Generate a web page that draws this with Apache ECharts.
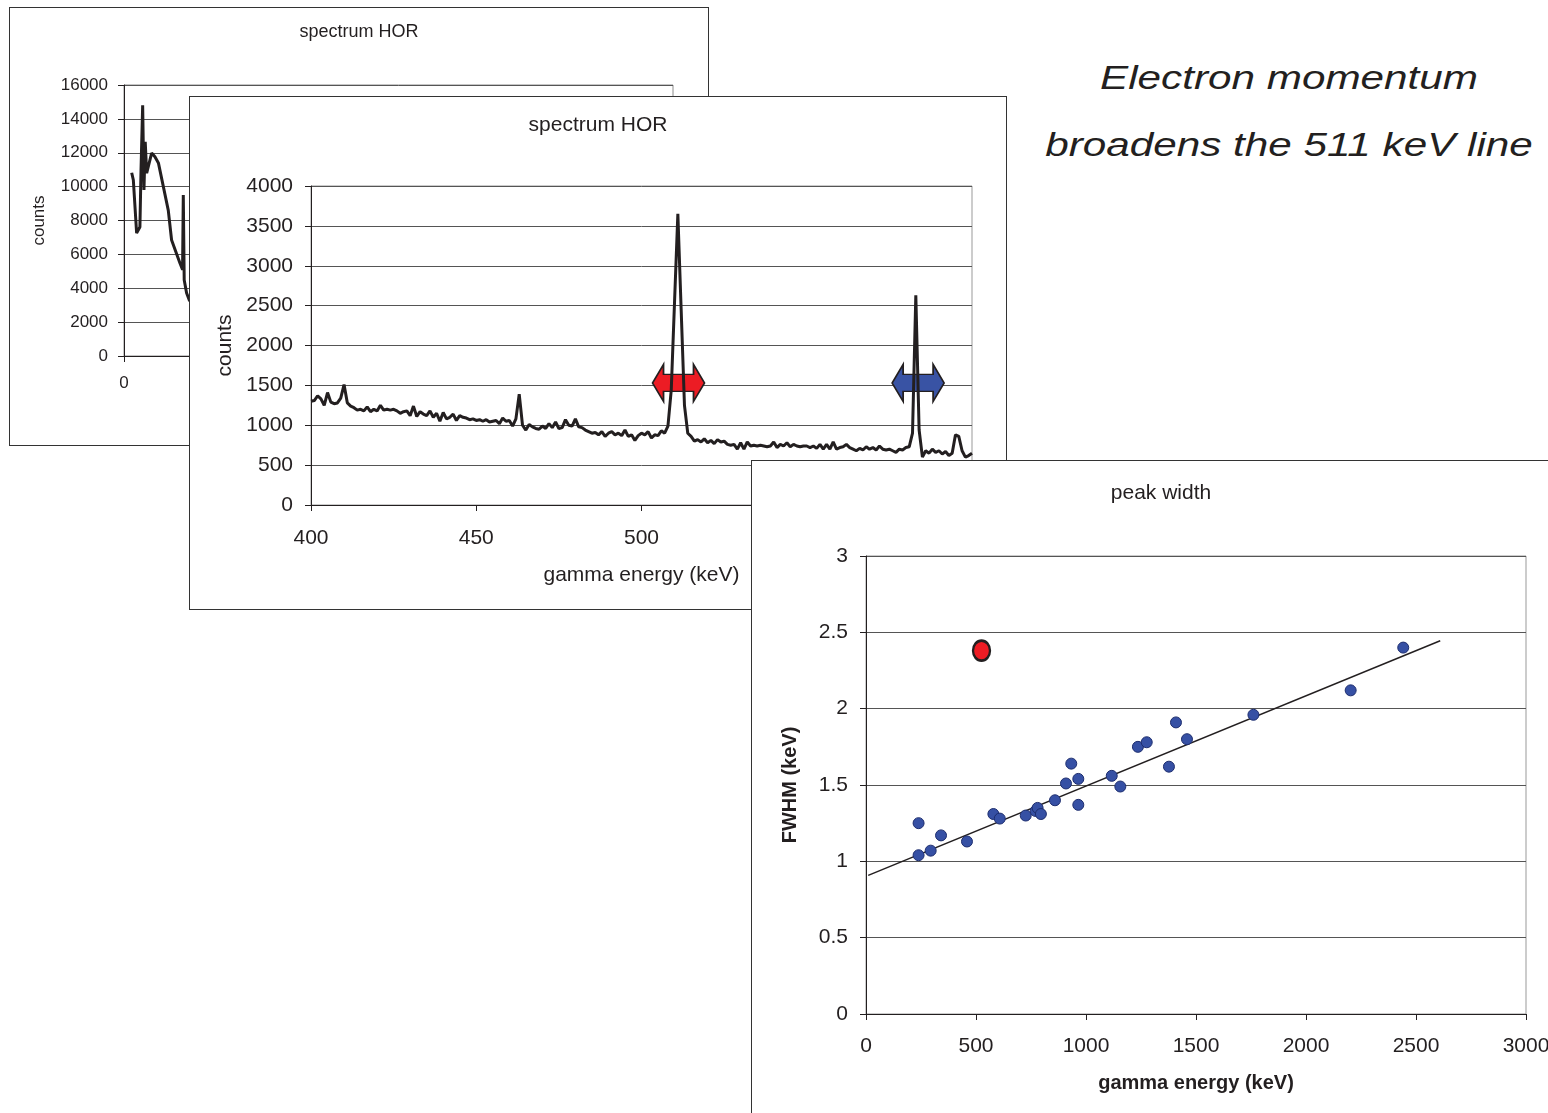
<!DOCTYPE html>
<html>
<head>
<meta charset="utf-8">
<title>Electron momentum broadens the 511 keV line</title>
<script src="https://cdn.jsdelivr.net/npm/echarts@6/dist/echarts.min.js"></script>
<style>
  html, body { margin: 0; padding: 0; background: #fff; overflow: hidden; }
  body { width: 1548px; height: 1113px; position: relative; font-family: 'Liberation Sans', Arial, sans-serif; }
  .panel { position: absolute; background: #fff; border: 1px solid #333; box-sizing: border-box; }
  #back { left: 9px; top: 7px; width: 700px; height: 439px; z-index: 1; }
  #zoom { left: 189px; top: 96px; width: 818px; height: 514px; z-index: 2; }
  #width { left: 751px; top: 460px; width: 820px; height: 700px; z-index: 3; }
  #heading {
    position: absolute; left: 1030px; top: 44px; width: 518px;
    text-align: center; font-style: italic; font-size: 33px; line-height: 67px;
    color: #231f20; transform: scaleX(1.28); transform-origin: center; z-index: 0;
  }
</style>
</head>
<body>
<div id="back" class="panel"></div>
<div id="zoom" class="panel"></div>
<div id="width" class="panel"></div>
<div id="heading">Electron momentum<br>broadens the 511 keV line</div>
<script>
const TEXT = '#231f20'
const FONT = 'Liberation Sans'

// full spectrum, back panel (only the low energy start is visible)
const fullEnergy = [42, 51, 69, 87, 93, 102, 109, 116, 124, 151, 169, 188, 215, 242, 260, 306, 320, 324, 329, 342, 357, 400, 450, 500]
const fullCounts = [10820, 10390, 7260, 7620, 10980, 14800, 9800, 12650, 10800, 11980, 11760, 11400, 10000, 8600, 6850, 5480, 5100, 9500, 4490, 3720, 3300, 2800, 2500, 2300]

// spectrum 400 - 600 keV, 1 keV bins
const zoomStart = 400
const zoomCounts = [
  1300, 1310, 1370, 1330, 1250, 1410, 1290, 1270, 1280, 1340,
  1510, 1280, 1240, 1220, 1190, 1200, 1180, 1230, 1170, 1200,
  1180, 1250, 1190, 1200, 1190, 1200, 1180, 1150, 1170, 1180,
  1120, 1240, 1110, 1170, 1140, 1120, 1180, 1100, 1150, 1050,
  1160, 1080, 1100, 1140, 1060, 1120, 1100, 1090, 1070, 1080,
  1060, 1070, 1050, 1070, 1040, 1050, 1060, 1020, 1090, 1050,
  1060, 990, 1080, 1390, 1000, 940, 1010, 980, 960, 950,
  990, 960, 1020, 970, 1040, 960, 970, 1070, 1000, 990,
  1080, 980, 970, 940, 920, 900, 910, 880, 920, 860,
  900, 920, 880, 900, 870, 940, 860, 880, 810, 870,
  900, 880, 920, 840, 880, 870, 930, 900, 990, 1440,
  2550, 3650, 2450, 1250, 900, 860, 800, 820, 790, 830,
  780, 810, 770, 820, 790, 800, 760, 750, 760, 700,
  780, 700, 790, 740, 750, 740, 750, 740, 730, 740,
  790, 720, 760, 740, 780, 730, 760, 740, 730, 740,
  740, 720, 740, 710, 760, 700, 760, 700, 790, 700,
  720, 730, 760, 720, 700, 680, 710, 690, 730, 700,
  720, 690, 740, 700, 690, 700, 680, 660, 700, 690,
  720, 730, 900, 2630, 940, 600, 680, 650, 700, 660,
  680, 640, 670, 620, 650, 880, 860, 680, 600, 620,
  650
]

// double arrows over the two lines
const arrowEnergy = [511.2, 583.7]
const arrowCounts = [1530, 1530]
const arrowColors = ['#ec1c24', '#3953a4']

// peak width vs energy
const peakEnergy = [239, 239, 294, 341, 459, 579, 608, 726, 771, 780, 795, 859, 909, 933, 965, 965, 1117, 1156, 1236, 1276, 1377, 1409, 1459, 1761, 2203, 2442]
const peakFwhm = [1.25, 1.04, 1.07, 1.17, 1.13, 1.31, 1.28, 1.30, 1.33, 1.35, 1.31, 1.40, 1.51, 1.64, 1.54, 1.37, 1.56, 1.49, 1.75, 1.78, 1.62, 1.91, 1.80, 1.96, 2.12, 2.40]
const annihEnergy = [525]
const annihFwhm = [2.38]
const fitEnergy = [10, 2610]
const fitFwhm = [0.908, 2.445]

const pairs = (xs, ys) => xs.map((x, i) => [x, ys[i]])

const axis = (min, max, interval, size, margin, split) => ({
  type: 'value',
  min,
  max,
  interval,
  axisLine: { show: true, onZero: false, lineStyle: { color: TEXT, width: 1 } },
  axisTick: { show: true, length: 6, lineStyle: { color: TEXT } },
  axisLabel: { fontSize: size, margin, color: TEXT, fontFamily: FONT, formatter: (v) => String(v) },
  splitLine: { show: split, lineStyle: { color: '#555', width: 1 } }
})

const named = (ax, name, gap, size, weight) => Object.assign(ax, {
  name,
  nameLocation: 'middle',
  nameGap: gap,
  nameTextStyle: { fontSize: size, fontWeight: weight, color: TEXT, fontFamily: FONT }
})

const title = (text, top, size) => ({
  text,
  left: 'center',
  top,
  padding: 0,
  textStyle: { fontSize: size, fontWeight: 'normal', color: TEXT, fontFamily: FONT }
})

const init = (id, option) => {
  const chart = echarts.init(document.getElementById(id), null, { renderer: 'canvas' })
  chart.setOption(Object.assign({ animation: false, textStyle: { fontFamily: FONT } }, option))
  return chart
}

// back panel: whole spectrum
init('back', {
  title: title('spectrum HOR', 15, 18),
  grid: { left: 114, top: 77, width: 549, height: 271, show: true, borderColor: '#8c8c8c', borderWidth: 1 },
  xAxis: axis(0, 3000, 500, 17, 19, false),
  yAxis: named(axis(0, 16000, 2000, 17, 16, true), 'counts', 76, 17, 'normal'),
  series: [{
    type: 'line',
    data: pairs(fullEnergy, fullCounts),
    symbol: 'none',
    z: 3,
    lineStyle: { color: TEXT, width: 3 }
  }]
})

// middle panel: 400 - 600 keV
init('zoom', {
  title: title('spectrum HOR', 18, 21),
  grid: { left: 121, top: 89, width: 661, height: 319, show: true, borderColor: '#999', borderWidth: 1 },
  xAxis: named(axis(400, 600, 50, 21, 23, false), 'gamma energy (keV)', 60, 21, 'normal'),
  yAxis: named(axis(0, 4000, 500, 21, 18, true), 'counts', 75, 21, 'normal'),
  series: [{
    type: 'scatter',
    z: 2,
    symbol: 'path://M0,18.5 L11,0 L11,10 L41,10 L41,0 L52,18.5 L41,37 L41,27 L11,27 L11,37 Z',
    symbolSize: [52, 37],
    data: arrowEnergy.map((e, i) => ({
      value: [e, arrowCounts[i]],
      itemStyle: { color: arrowColors[i], borderColor: TEXT, borderWidth: 1.5, opacity: 1 }
    }))
  }, {
    type: 'line',
    z: 3,
    data: zoomCounts.map((c, i) => [zoomStart + i, c]),
    symbol: 'none',
    lineStyle: { color: TEXT, width: 3 }
  }]
})

// front panel: peak width
init('width', {
  title: title('peak width', 22, 21),
  grid: { left: 114, top: 95, width: 660, height: 458, show: true, borderColor: '#999', borderWidth: 1 },
  xAxis: named(axis(0, 3000, 500, 21, 22, false), 'gamma energy (keV)', 59, 20, 'bold'),
  yAxis: named(axis(0, 3, 0.5, 21, 18, true), 'FWHM (keV)', 66, 20, 'bold'),
  series: [{
    type: 'line',
    z: 2,
    data: pairs(fitEnergy, fitFwhm),
    symbol: 'none',
    lineStyle: { color: TEXT, width: 1.5 }
  }, {
    type: 'scatter',
    z: 3,
    data: pairs(peakEnergy, peakFwhm),
    symbolSize: 11,
    itemStyle: { color: '#3650a4', borderColor: '#1d2d6e', borderWidth: 1, opacity: 1 }
  }, {
    type: 'scatter',
    z: 4,
    data: pairs(annihEnergy, annihFwhm),
    symbolSize: [17, 20],
    itemStyle: { color: '#ed1c24', borderColor: TEXT, borderWidth: 2.5, opacity: 1 }
  }]
})
</script>
</body>
</html>
